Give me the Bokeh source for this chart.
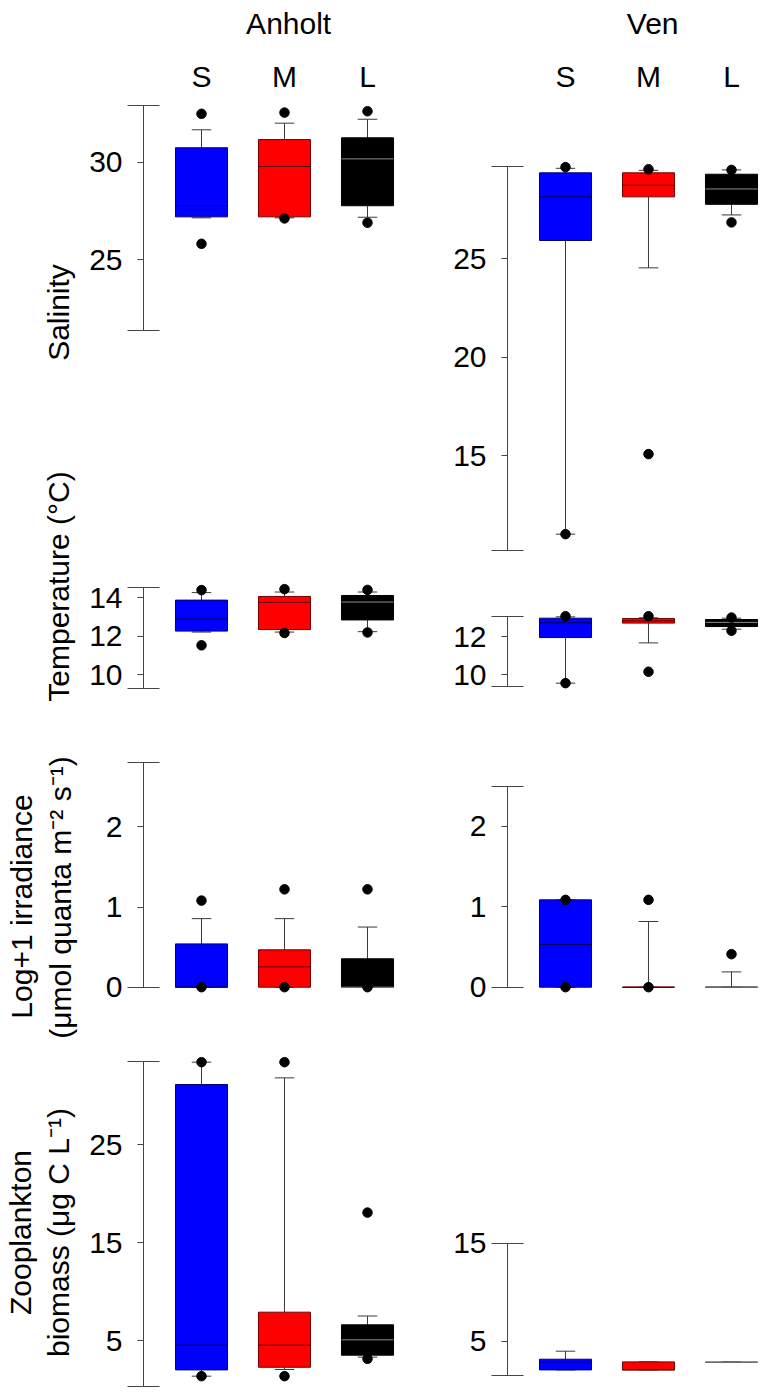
import numpy as np
from bokeh.plotting import figure
from bokeh.layouts import row, column
from bokeh.models import Range1d, FixedTicker, ColumnDataSource, LinearAxis
from bokeh.core.properties import value
from bokeh.embed import file_html
from bokeh.resources import INLINE

# ---------------- data ----------------
sites = ["Anholt", "Ven"]
groups = ["S", "M", "L"]
group_pos = [1, 2, 3]

# Anholt salinity
anh_sal_lo = [27.15, 27.15, 27.18]
anh_sal_q1 = [27.2, 27.2, 27.77]
anh_sal_med = [27.78, 29.78, 30.17]
anh_sal_q3 = [30.74, 31.16, 31.25]
anh_sal_hi = [31.66, 32.0, 32.2]
anh_sal_out_grp = ["S", "S", "M", "M", "L", "L"]
anh_sal_out_val = [32.48, 25.82, 32.54, 27.12, 32.61, 26.9]
anh_sal_ticks = [25, 30]
anh_sal_axis = [21.38, 32.9]

# Anholt temperature
anh_tmp_lo = [12.22, 12.22, 12.24]
anh_tmp_q1 = [12.27, 12.35, 12.85]
anh_tmp_med = [12.9, 13.76, 13.78]
anh_tmp_q3 = [13.88, 14.07, 14.12]
anh_tmp_hi = [14.27, 14.3, 14.3]
anh_tmp_out_grp = ["S", "S", "M", "M", "L", "L"]
anh_tmp_out_val = [14.4, 11.53, 14.45, 12.17, 14.41, 12.2]
anh_tmp_ticks = [10, 12, 14]
anh_tmp_axis = [9.31, 14.54]

# Anholt irradiance
anh_irr_lo = [0, 0, 0]
anh_irr_q1 = [0, 0, 0]
anh_irr_med = [0, 0.254, 0]
anh_irr_q3 = [0.54, 0.466, 0.354]
anh_irr_hi = [0.855, 0.855, 0.75]
anh_irr_out_grp = ["S", "S", "M", "M", "L", "L"]
anh_irr_out_val = [1.08, 0, 1.22, 0, 1.22, 0]
anh_irr_ticks = [0, 1, 2]
anh_irr_axis = [0, 2.8]

# Anholt zooplankton
anh_zoo_lo = [1.36, 2.04, 3.3]
anh_zoo_q1 = [2.0, 2.27, 3.5]
anh_zoo_med = [4.53, 4.53, 5.07]
anh_zoo_q3 = [31.12, 7.89, 6.6]
anh_zoo_hi = [33.4, 31.8, 7.5]
anh_zoo_out_grp = ["S", "S", "M", "M", "L", "L"]
anh_zoo_out_val = [33.4, 1.36, 33.4, 1.36, 18.05, 3.13]
anh_zoo_ticks = [5, 15, 25]
anh_zoo_axis = [0.31, 33.47]

# Ven salinity
ven_sal_lo = [11.0, 24.54, 27.23]
ven_sal_q1 = [25.93, 28.15, 27.77]
ven_sal_med = [28.15, 28.74, 28.55]
ven_sal_q3 = [29.37, 29.37, 29.3]
ven_sal_hi = [29.6, 29.5, 29.52]
ven_sal_out_grp = ["S", "S", "M", "M", "L", "L"]
ven_sal_out_val = [29.66, 11.0, 29.55, 15.07, 29.52, 26.85]
ven_sal_ticks = [15, 20, 25]
ven_sal_axis = [10.15, 29.69]

# Ven temperature
ven_tmp_lo = [9.56, 11.68, 12.4]
ven_tmp_q1 = [11.96, 12.72, 12.54]
ven_tmp_med = [12.74, 12.84, 12.76]
ven_tmp_q3 = [12.98, 12.96, 12.91]
ven_tmp_hi = [13.05, 13.0, 12.98]
ven_tmp_out_grp = ["S", "S", "M", "M", "L", "L"]
ven_tmp_out_val = [13.08, 9.56, 13.08, 10.16, 13.01, 12.32]
ven_tmp_ticks = [10, 12]
ven_tmp_axis = [9.4, 13.08]

# Ven irradiance
ven_irr_lo = [0, 0, 0]
ven_irr_q1 = [0, 0, 0]
ven_irr_med = [0.53, 0, 0]
ven_irr_q3 = [1.085, 0, 0]
ven_irr_hi = [1.085, 0.816, 0.19]
ven_irr_out_grp = ["S", "S", "M", "M", "L"]
ven_irr_out_val = [1.085, 0, 1.085, 0, 0.41]
ven_irr_ticks = [0, 1, 2]
ven_irr_axis = [0, 2.49]

# Ven zooplankton
ven_zoo_lo = [2.07, 2.07, 2.85]
ven_zoo_q1 = [2.07, 2.07, 2.85]
ven_zoo_med = [2.89, 2.07, 2.85]
ven_zoo_q3 = [3.16, 2.89, 2.85]
ven_zoo_hi = [3.98, 2.89, 2.85]
ven_zoo_out_grp = []
ven_zoo_out_val = []
ven_zoo_ticks = [5, 15]
ven_zoo_axis = [1.53, 15]

y_labels = ["Salinity", "Temperature (°C)",
            "Log+1 irradiance", "(μmol quanta m⁻² s⁻¹)",
            "Zooplankton", "biomass (μg C L⁻¹)"]

# ---------------- style / layout ----------------
FONT = "Liberation Sans"
FS = "30px"
FILL = ["#0000FF", "#FF0000", "#000000"]
EDGE = ["#00006A", "#6E0000", "#000000"]
MED = ["#000050", "#5A0000", "#8C8C8C"]
AXC = "#454545"
WHC = "#3a3a3a"
BOX_W = 0.627
CAP_W = 0.235

PAGE_H = 1395
LABEL_W = 78
HEADER_H = 95
COLS = {
    "left": dict(width=322, border=65, xr=Range1d(0.3012, 3.3976)),
    "right": dict(width=366, border=107, xr=Range1d(0.3012, 3.4217)),
}


def y_range_from(calib, top, bottom):
    v1, p1, v2, p2 = calib
    k = (p2 - p1) / (v1 - v2)
    return Range1d(v1 - (bottom - p1) / k, v1 + (p1 - top) / k)


def base_fig(col, height, yr):
    c = COLS[col]
    p = figure(width=c["width"], height=height, x_range=c["xr"], y_range=yr,
               output_backend="svg", toolbar_location=None,
               x_axis_location=None, y_axis_location=None,
               min_border=0, min_border_left=c["border"],
               outline_line_color=None)
    p.grid.visible = False
    return p


def header(col, site):
    p = base_fig(col, HEADER_H, Range1d(0, HEADER_H))
    p.text(x=[2.05], y=[HEADER_H - 22.6], text=[site], text_align="center",
           text_baseline="middle", text_font=value(FONT),
           text_font_size=value(FS), text_color="black")
    p.text(x=group_pos, y=[HEADER_H - 75.6] * 3, text=groups, text_align="center",
           text_baseline="middle", text_font=value(FONT),
           text_font_size=value(FS), text_color="black")
    return p


def box_panel(col, lo, q1, med, q3, hi, out_grp, out_val, ticks, axis_b,
              calib, top, bottom):
    yr = y_range_from(calib, top, bottom)
    p = base_fig(col, bottom - top, yr)
    ax = LinearAxis(ticker=FixedTicker(ticks=ticks, minor_ticks=list(axis_b)))
    ax.bounds = (axis_b[0], axis_b[1])
    ax.axis_line_color = AXC
    ax.major_tick_line_color = AXC
    ax.minor_tick_line_color = AXC
    ax.major_tick_in = 0
    ax.major_tick_out = 6
    ax.minor_tick_in = 16
    ax.minor_tick_out = 16
    ax.major_label_standoff = 5
    ax.major_label_text_font = FONT
    ax.major_label_text_font_size = FS
    ax.major_label_text_color = "black"
    p.add_layout(ax, "left")

    x = np.array(group_pos, dtype=float)
    src = ColumnDataSource(dict(
        x=x, xl=x - BOX_W / 2, xr=x + BOX_W / 2,
        cl=x - CAP_W / 2, cr=x + CAP_W / 2,
        lo=lo, q1=q1, med=med, q3=q3, hi=hi,
        fill=FILL, edge=EDGE, medc=MED))
    p.segment(x0="x", y0="q3", x1="x", y1="hi", source=src, line_color=WHC, line_width=1)
    p.segment(x0="x", y0="q1", x1="x", y1="lo", source=src, line_color=WHC, line_width=1)
    p.segment(x0="cl", y0="hi", x1="cr", y1="hi", source=src, line_color=WHC, line_width=1)
    p.segment(x0="cl", y0="lo", x1="cr", y1="lo", source=src, line_color=WHC, line_width=1)
    p.quad(left="xl", right="xr", bottom="q1", top="q3", source=src,
           fill_color="fill", line_color="edge", line_width=1)
    p.segment(x0="xl", y0="med", x1="xr", y1="med", source=src,
              line_color="medc", line_width=1)
    if out_val:
        ox = [group_pos[groups.index(g)] for g in out_grp]
        p.scatter(x=ox, y=out_val, size=9.5, color="black")
    return p


left_col = column(
    header("left", sites[0]),
    box_panel("left", anh_sal_lo, anh_sal_q1, anh_sal_med, anh_sal_q3, anh_sal_hi,
              anh_sal_out_grp, anh_sal_out_val, anh_sal_ticks, anh_sal_axis,
              (30, 161.7, 25, 259.3), 95, 450),
    box_panel("left", anh_tmp_lo, anh_tmp_q1, anh_tmp_med, anh_tmp_q3, anh_tmp_hi,
              anh_tmp_out_grp, anh_tmp_out_val, anh_tmp_ticks, anh_tmp_axis,
              (14, 597.3, 10, 674.3), 450, 720),
    box_panel("left", anh_irr_lo, anh_irr_q1, anh_irr_med, anh_irr_q3, anh_irr_hi,
              anh_irr_out_grp, anh_irr_out_val, anh_irr_ticks, anh_irr_axis,
              (2, 826.3, 0, 986.7), 720, 1030),
    box_panel("left", anh_zoo_lo, anh_zoo_q1, anh_zoo_med, anh_zoo_q3, anh_zoo_hi,
              anh_zoo_out_grp, anh_zoo_out_val, anh_zoo_ticks, anh_zoo_axis,
              (25, 1144.0, 5, 1340.0), 1030, PAGE_H),
    spacing=0)

right_col = column(
    header("right", sites[1]),
    box_panel("right", ven_sal_lo, ven_sal_q1, ven_sal_med, ven_sal_q3, ven_sal_hi,
              ven_sal_out_grp, ven_sal_out_val, ven_sal_ticks, ven_sal_axis,
              (25, 258.3, 15, 455.0), 95, 590),
    box_panel("right", ven_tmp_lo, ven_tmp_q1, ven_tmp_med, ven_tmp_q3, ven_tmp_hi,
              ven_tmp_out_grp, ven_tmp_out_val, ven_tmp_ticks, ven_tmp_axis,
              (12, 636.3, 10, 674.3), 590, 740),
    box_panel("right", ven_irr_lo, ven_irr_q1, ven_irr_med, ven_irr_q3, ven_irr_hi,
              ven_irr_out_grp, ven_irr_out_val, ven_irr_ticks, ven_irr_axis,
              (2, 825.7, 0, 986.7), 740, 1030),
    box_panel("right", ven_zoo_lo, ven_zoo_q1, ven_zoo_med, ven_zoo_q3, ven_zoo_hi,
              ven_zoo_out_grp, ven_zoo_out_val, ven_zoo_ticks, ven_zoo_axis,
              (15, 1242.7, 5, 1340.7), 1030, PAGE_H),
    spacing=0)

# y-axis titles in a narrow figure on the left (page pixel coordinates)
lab = figure(width=LABEL_W, height=PAGE_H, x_range=Range1d(0, LABEL_W),
             y_range=Range1d(0, PAGE_H), output_backend="svg",
             toolbar_location=None, x_axis_location=None, y_axis_location=None,
             min_border=0, outline_line_color=None)
lab.grid.visible = False
lab_x = [57.5, 57.5, 20.5, 59.5, 19.5, 58.0]
lab_page_y = [312, 586, 906, 897, 1232, 1232]
lab.text(x=lab_x, y=[PAGE_H - v for v in lab_page_y], text=y_labels,
         angle=np.pi / 2, text_align="center", text_baseline="middle",
         text_font=value(FONT), text_font_size=value(FS), text_color="black")

layout = row(lab, left_col, right_col, spacing=0)

open("out.html", "w").write(file_html(layout, INLINE))
